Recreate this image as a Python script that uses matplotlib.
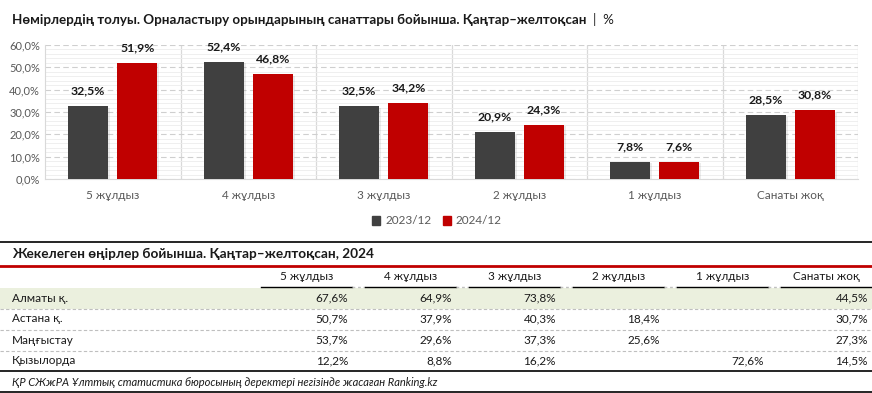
import matplotlib.pyplot as plt
from matplotlib.lines import Line2D
from matplotlib.patches import Rectangle, Patch
import matplotlib.patheffects as pe
import numpy as np

plt.rcParams['font.family'] = ['Lato', 'DejaVu Sans']

# chart data
categories = ['5 жұлдыз', '4 жұлдыз', '3 жұлдыз', '2 жұлдыз', '1 жұлдыз', 'Санаты жоқ']
vals_2023 = [32.5, 52.4, 32.5, 20.9, 7.8, 28.5]
vals_2024 = [51.9, 46.8, 34.2, 24.3, 7.6, 30.8]
series_names = ['2023/12', '2024/12']

# table data
regions = ['Алматы қ.', 'Астана қ.', 'Маңғыстау', 'Қызылорда']
table_vals = [
    ['67,6%', '64,9%', '73,8%', '', '', '44,5%'],
    ['50,7%', '37,9%', '40,3%', '18,4%', '', '30,7%'],
    ['53,7%', '29,6%', '37,3%', '25,6%', '', '27,3%'],
    ['12,2%', '8,8%', '16,2%', '', '72,6%', '14,5%'],
]

W, H = 872, 393
fig = plt.figure(figsize=(W / 100, H / 100), dpi=100)


def fx(px):
    return px / W


def fy(py):
    return 1 - py / H


dark = '#404040'
red = '#C00000'
grey_txt = '#595959'

title = fig.text(fx(12), fy(20), 'Нөмірлердің толуы. Орналастыру орындарының санаттары бойынша. Қаңтар–желтоқсан',
                 fontsize=9.6, fontweight='bold', va='center', color='#1a1a1a')

ax = fig.add_axes([fx(45), fy(179), fx(858) - fx(45), fy(45) - fy(179)])
ax.annotate('|  %', xy=(1, 0.5), xycoords=title, xytext=(5, 0), textcoords='offset points',
            va='center', fontsize=9.6, color='#1a1a1a', annotation_clip=False)
x = np.arange(len(categories))
bw = 0.295
off = 0.181
shadow = [pe.SimplePatchShadow(offset=(1.5, -1), alpha=0.15, shadow_rgbFace='#808080'), pe.Normal()]
b1 = ax.bar(x - off, vals_2023, bw, color=dark, zorder=3, path_effects=shadow)
b2 = ax.bar(x + off, vals_2024, bw, color=red, zorder=3, path_effects=shadow)
for bars, vals in ((b1, vals_2023), (b2, vals_2024)):
    for r, v in zip(bars, vals):
        ax.annotate(f'{v:.1f}%'.replace('.', ','), (r.get_x() + r.get_width() / 2, v),
                    xytext=(0, 7), textcoords='offset points', ha='center', va='bottom',
                    fontsize=8.8, fontweight='bold', color='#1a1a1a')

ax.set_xlim(-0.5, len(categories) - 0.5)
ax.set_ylim(0, 60)
ax.set_yticks(np.arange(0, 61, 10))
ax.set_yticklabels([f'{v:.1f}%'.replace('.', ',') for v in np.arange(0, 61, 10)])
ax.set_yticks(np.arange(0, 61, 2), minor=True)
ax.set_xticks(x)
ax.set_xticklabels(categories)
ax.tick_params(axis='both', length=0, colors=grey_txt, labelsize=8)
ax.tick_params(axis='x', pad=8, labelsize=8.5)
ax.tick_params(axis='y', which='minor', length=0)
ax.grid(axis='y', which='minor', color='#ececec', lw=0.6, zorder=0)
ax.grid(axis='y', which='major', color='#cfcfcf', lw=0.8, ls=(0, (5, 3)), zorder=1)
for b in np.arange(0.5, len(categories) - 0.5, 1):
    ax.axvline(b, color='#d9d9d9', lw=0.9, zorder=1)
for s in ['top', 'right']:
    ax.spines[s].set_visible(False)
ax.spines['left'].set_color('#d9d9d9')
ax.spines['bottom'].set_color('#d9d9d9')
ax.axvline(len(categories) - 0.5, color='#d9d9d9', lw=0.9, zorder=1)

handles = [Patch(color=dark, label=series_names[0]), Patch(color=red, label=series_names[1])]
leg = fig.legend(handles=handles, loc='center', bbox_to_anchor=(fx(437), fy(221)), ncol=2,
                 frameon=False, fontsize=8.5, handlelength=0.7, handleheight=0.7,
                 handletextpad=0.4, columnspacing=1.0)
for t in leg.get_texts():
    t.set_color(grey_txt)

# table section
def hline(y, x0=0, x1=W, **kw):
    fig.add_artist(Line2D([fx(x0), fx(x1)], [fy(y), fy(y)], transform=fig.transFigure, **kw))


hline(242, color='black', lw=1.2)
fig.text(fx(12), fy(254), 'Жекелеген өңірлер бойынша. Қаңтар–желтоқсан, 2024',
         fontsize=9.8, fontweight='bold', va='center', color='#1a1a1a')
hline(266, color=red, lw=2)

col_left = [261 + 104 * i for i in range(len(categories))]
col_w = 91
for i, name in enumerate(categories):
    fig.text(fx(col_left[i] + col_w / 2), fy(277), name, fontsize=8.5, ha='center', va='center', color='#1a1a1a')
    hline(287, col_left[i], col_left[i] + col_w, color='black', lw=1)
    if i < len(categories) - 1:
        hline(287, col_left[i] + col_w, col_left[i] + 104, color='#bfbfbf', lw=1, ls=(0, (2, 2)))

fig.add_artist(Rectangle((0, fy(308.5)), 1, fy(288) - fy(308.5), transform=fig.transFigure,
                         facecolor='#EBF0DE', edgecolor='none', zorder=0))
row_y = [298, 319, 340, 361]
for r, (reg, vals) in enumerate(zip(regions, table_vals)):
    fig.text(fx(12), fy(row_y[r]), reg, fontsize=8.5, va='center', color='#1a1a1a')
    for i, v in enumerate(vals):
        if v:
            fig.text(fx(col_left[i] + col_w - 4), fy(row_y[r]), v, fontsize=8.5, ha='right',
                     va='center', color='#1a1a1a')
    if r < len(regions) - 1:
        hline(row_y[r] + 10.5, color='#bfbfbf', lw=0.8, ls=(0, (3, 2)))
hline(371, color='black', lw=1.2)
fig.text(fx(12), fy(382), 'ҚР СЖжРА Ұлттық статистика бюросының деректері негізінде жасаған Ranking.kz',
         fontsize=8, style='italic', va='center', color='#1a1a1a')
hline(392, color='black', lw=1.2)

fig.savefig('out.png', dpi=100)
